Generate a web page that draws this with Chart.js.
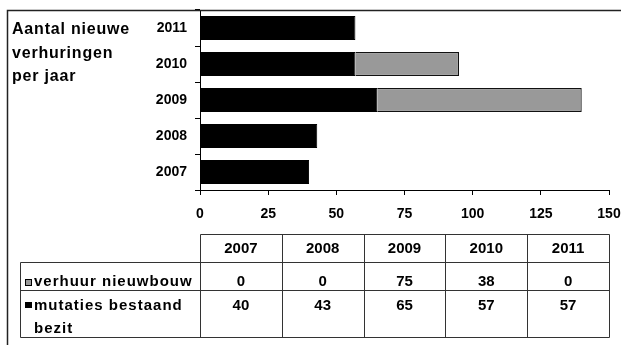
<!DOCTYPE html>
<html lang="nl">
<head>
<meta charset="UTF-8" />
<title>Aantal nieuwe verhuringen per jaar</title>
<script src="https://cdn.jsdelivr.net/npm/chart.js@4"></script>
<style>
  body { margin: 0; background: #fff; }
  #wrap { width: 621px; height: 345px; }
</style>
</head>
<body>
<div id="wrap"><canvas id="myChart" width="621" height="345"></canvas></div>
<script>
  const years = ['2007', '2008', '2009', '2010', '2011'];
  const mutaties = [40, 43, 65, 57, 57];
  const nieuwbouw = [0, 0, 75, 38, 0];
  const xTicks = [0, 25, 50, 75, 100, 125, 150];
  const titleLines = ['Aantal nieuwe', 'verhuringen', 'per jaar'];
  const seriesNames = {
    nieuwbouw: ['verhuur nieuwbouw'],
    mutaties: ['mutaties bestaand', 'bezit']
  };

  const FAMILY = '"Liberation Sans", Arial, sans-serif';
  const GREY = '#999999';

  // frame, title and the data table underneath the bars
  const extras = {
    id: 'extras',
    afterDraw(chart) {
      const ctx = chart.ctx;
      const area = chart.chartArea;
      ctx.save();

      // outer frame (top + left edge)
      ctx.strokeStyle = '#222';
      ctx.lineWidth = 1.5;
      ctx.beginPath();
      ctx.moveTo(7.5, 345);
      ctx.lineTo(7.5, 10.5);
      ctx.lineTo(621, 10.5);
      ctx.stroke();

      // title
      ctx.fillStyle = '#000';
      ctx.font = 'bold 16px ' + FAMILY;
      ctx.letterSpacing = '0.8px';
      ctx.textAlign = 'left';
      ctx.textBaseline = 'alphabetic';
      titleLines.forEach((t, i) => ctx.fillText(t, 12, 34 + i * 23.5));

      // table grid
      const colW = (area.right - area.left) / years.length;
      const colX = years.map((_, i) => Math.round(area.left + i * colW) + 0.5);
      colX.push(Math.round(area.right) + 0.5);
      const headTop = 234.5, headBot = 262.5, row1Bot = 290.5, row2Bot = 337.5;
      const labelX = 20.5;

      ctx.strokeStyle = '#333';
      ctx.lineWidth = 1;
      ctx.beginPath();
      ctx.moveTo(colX[0], headTop); ctx.lineTo(colX[colX.length - 1], headTop);
      [headBot, row1Bot, row2Bot].forEach(y => {
        ctx.moveTo(labelX, y); ctx.lineTo(colX[colX.length - 1], y);
      });
      ctx.moveTo(labelX, headBot); ctx.lineTo(labelX, row2Bot);
      colX.forEach(x => { ctx.moveTo(x, headTop); ctx.lineTo(x, row2Bot); });
      ctx.stroke();

      // header + values
      ctx.letterSpacing = '0px';
      ctx.font = 'bold 15px ' + FAMILY;
      ctx.textAlign = 'center';
      years.forEach((y, i) => {
        const cx = area.left + (i + 0.5) * colW;
        ctx.fillText(y, cx, 253);
        ctx.fillText(String(nieuwbouw[i]), cx, 286);
        ctx.fillText(String(mutaties[i]), cx, 310);
      });

      // row labels with legend keys
      ctx.textAlign = 'left';
      ctx.font = 'bold 15px ' + FAMILY;
      ctx.letterSpacing = '1px';
      ctx.fillText(seriesNames.nieuwbouw[0], 34, 286);
      ctx.fillText(seriesNames.mutaties[0], 34, 310);
      ctx.fillText(seriesNames.mutaties[1], 34, 333);

      ctx.lineWidth = 1;
      ctx.strokeStyle = '#000';
      ctx.fillStyle = GREY;
      ctx.fillRect(25.5, 279.5, 6, 6);
      ctx.strokeRect(25.5, 279.5, 6, 6);
      ctx.fillStyle = '#000';
      ctx.fillRect(25, 302, 7, 6);

      ctx.restore();
    }
  };

  const tickFont = { family: FAMILY, size: 14, weight: 'bold' };

  new Chart(document.getElementById('myChart'), {
    type: 'bar',
    data: {
      labels: years,
      datasets: [
        {
          label: seriesNames.mutaties.join(' '),
          data: mutaties,
          backgroundColor: '#000',
          borderColor: '#000',
          borderWidth: 1,
          barPercentage: 0.67,
          categoryPercentage: 1
        },
        {
          label: seriesNames.nieuwbouw.join(' '),
          data: nieuwbouw,
          backgroundColor: GREY,
          borderColor: '#111',
          borderWidth: 1.2,
          barPercentage: 0.67,
          categoryPercentage: 1
        }
      ]
    },
    options: {
      indexAxis: 'y',
      responsive: false,
      animation: false,
      layout: { padding: { left: 0, top: 10, right: 12, bottom: 0 } },
      plugins: { legend: { display: false }, tooltip: { enabled: false } },
      scales: {
        x: {
          stacked: true,
          min: xTicks[0],
          max: xTicks[xTicks.length - 1],
          ticks: { stepSize: xTicks[1] - xTicks[0], font: tickFont, color: '#000', padding: 11, maxRotation: 0 },
          grid: { drawOnChartArea: false, tickLength: 5, color: '#000' },
          border: { color: '#000', width: 1 },
          afterFit(s) { s.height = 155; s.paddingLeft = 0; s.paddingRight = 0; }
        },
        y: {
          stacked: true,
          reverse: true,
          ticks: { font: tickFont, color: '#000', padding: 8 },
          grid: { drawOnChartArea: false, offset: true, tickLength: 5, color: '#000' },
          border: { color: '#000', width: 1 },
          afterFit(s) { s.width = 200; s.paddingTop = 0; s.paddingBottom = 0; }
        }
      }
    },
    plugins: [extras]
  });
</script>
</body>
</html>
